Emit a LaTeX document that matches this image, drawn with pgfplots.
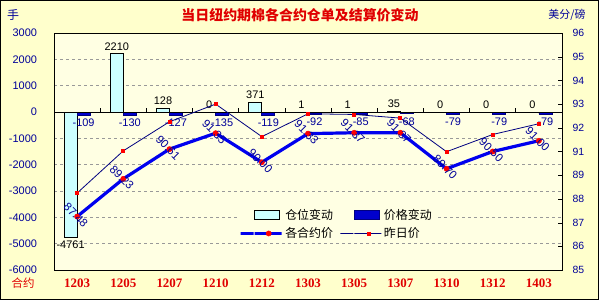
\documentclass[border=0pt]{standalone}
\usepackage{fontspec}
\usepackage{pgfplots}
\pgfplotsset{compat=1.18}
\setmainfont{Liberation Sans}
\newfontfamily\cjk{Noto Sans CJK SC}
\newfontfamily\serifnum{Liberation Serif}
\definecolor{outerbg}{HTML}{FFFFCC}
\definecolor{plotbg}{HTML}{FFFFE3}
\definecolor{navy}{HTML}{000099}
\definecolor{navyline}{HTML}{000080}
\definecolor{cyanbar}{HTML}{CCFFFF}
\definecolor{darkbar}{HTML}{0000CC}
\definecolor{tred}{HTML}{E00000}
\definecolor{lineblue}{HTML}{0000EE}
\pgfplotsset{
  barleg/.style={legend image code/.code={\draw[##1] (0bp,-4.5bp) rectangle (25bp,4.5bp);}},
  lineleg/.style={legend image code/.code={\draw[mark repeat=2,mark phase=2,##1] plot coordinates {(0bp,0bp) (14bp,0bp) (28bp,0bp)};}},
}
\begin{document}
\begin{tikzpicture}[x=1bp,y=1bp]
\fill[outerbg] (0,0) rectangle (599,300);
\draw[line width=1.2bp] (0.6,0.6) rectangle (598.4,299.4);
\node[font=\cjk\bfseries\fontsize{14}{16}\selectfont, text=tred] at (300,285) {当日纽约期棉各合约仓单及结算价变动};
\node[font=\cjk\fontsize{12}{14}\selectfont, text=navy, anchor=center] at (13,285) {手};
\node[font=\cjk\fontsize{11}{13}\selectfont, text=navy] at (567,285) {美分/磅};
\node[font=\cjk\fontsize{11.5}{13}\selectfont, text=tred] at (23,17) {合约};
\begin{axis}[
  at={(54bp,30bp)}, anchor=south west, scale only axis,
  width=508bp, height=237bp,
  xmin=0.5, xmax=11.5, ymin=-6000, ymax=3000,
  axis background/.style={fill=plotbg},
  axis line style={black},
  xtick={1,...,11},
  xticklabels={1203,1205,1207,1210,1212,1303,1305,1307,1310,1312,1403},
  x tick label style={font=\serifnum\bfseries\fontsize{13}{15}\selectfont, text=tred, yshift=-5bp},
  ytick={-6000,-5000,-4000,-3000,-2000,-1000,0,1000,2000,3000},
  yticklabels={-6000,-5000,-4000,-3000,-2000,-1000,0,1000,2000,3000},
  y tick label style={font=\fontsize{11}{13}\selectfont, text=navy, xshift=-13.5bp},
  ytick pos=left, xtick pos=bottom,
  major tick length=0pt,
  ymajorgrids, grid style={gray!80, dash pattern=on 3bp off 3bp},
  ybar, bar width=13bp,
  point meta=explicit symbolic,
  legend columns=2,
  legend cell align=left,
  legend style={at={(0.36,0.275)}, anchor=north west, draw=none, fill=plotbg,
    font=\cjk\fontsize{12}{14}\selectfont, inner sep=2bp,
    /tikz/every even column/.append style={column sep=5bp},
    row sep=3bp},
]
\addplot[fill=cyanbar, draw=black, line width=0.7bp, bar shift=-6.5bp, barleg,
  nodes near coords, every node near coord/.append style={anchor=south, font=\fontsize{11}{13}\selectfont, text=black}]
  coordinates {(1,-4761)[] (2,2210)[2210] (3,128)[128] (4,0)[0] (5,371)[371] (6,1)[1] (7,1)[1] (8,35)[35] (9,0)[0] (10,0)[0] (11,0)[0]};
\addplot[fill=darkbar, draw=navyline, line width=0.7bp, bar shift=6.5bp, barleg,
  nodes near coords, every node near coord/.append style={anchor=north, font=\fontsize{11}{13}\selectfont, text=navy}]
  coordinates {(1,-109)[-109] (2,-130)[-130] (3,-127)[-127] (4,-135)[-135] (5,-119)[-119] (6,-92)[-92] (7,-85)[-85] (8,-68)[-68] (9,-79)[-79] (10,-79)[-79] (11,-79)[-79]};
\addplot[draw=none, fill=none, bar shift=-6.5bp, forget plot,
  nodes near coords, every node near coord/.append style={anchor=north, font=\fontsize{11}{13}\selectfont, text=black}]
  coordinates {(1,-4761)[-4761]};
\addlegendimage{lineblue, line width=3.2bp, mark=*, mark size=2.6bp, mark options={fill=red, draw=red, line width=0.5bp}, lineleg}
\addlegendimage{navyline, line width=0.8bp, mark=square*, mark size=1.5bp, mark options={fill=red, draw=red}, lineleg}
\legend{仓位变动,价格变动,各合约价,昨日价}
\draw[black, line width=0.8bp] (axis cs:0.5,0) -- (axis cs:11.5,0);
\pgfplotsinvokeforeach{1.5,2.5,3.5,4.5,5.5,6.5,7.5,8.5,9.5,10.5}{
  \draw[black, line width=0.8bp] (axis cs:#1,0) -- ++(0pt,4pt);
}
\end{axis}
\begin{axis}[
  at={(54bp,30bp)}, anchor=south west, scale only axis,
  width=508bp, height=237bp,
  xmin=0.5, xmax=11.5, ymin=85, ymax=96,
  axis x line=none, axis y line*=right,
  axis line style={black},
  ytick={85,86.1,87.2,88.3,89.4,90.5,91.6,92.7,93.8,94.9,96},
  yticklabels={85,86,87,88,89,91,92,93,94,95,96},
  y tick label style={font=\fontsize{10.5}{13}\selectfont, text=navy, xshift=7bp},
  tick align=inside, major tick length=4bp,
  tick style={black},
  point meta=explicit symbolic,
]
\addplot[navyline, line width=0.8bp, mark=square*, mark size=1.5bp, mark options={fill=red, draw=red}]
  coordinates {(1,88.57) (2,90.53) (3,91.88) (4,92.70) (5,91.19) (6,92.25) (7,92.22) (8,92.05) (9,90.49) (10,91.29) (11,91.79)};
\addplot[lineblue, line width=3.2bp, mark=*, mark size=2.6bp, mark options={fill=red, draw=red, line width=0.5bp},
  nodes near coords, every node near coord/.append style={anchor=center, rotate=-45, font=\fontsize{11.5}{13}\selectfont, text=navy, xshift=-2bp}]
  coordinates {(1,87.48)[87.48] (2,89.23)[89.23] (3,90.61)[90.61] (4,91.35)[91.35] (5,90.00)[90.00] (6,91.33)[91.33] (7,91.37)[91.37] (8,91.37)[91.37] (9,89.70)[89.70] (10,90.50)[90.50] (11,91.00)[91.00]};
\end{axis}
\end{tikzpicture}
\end{document}
